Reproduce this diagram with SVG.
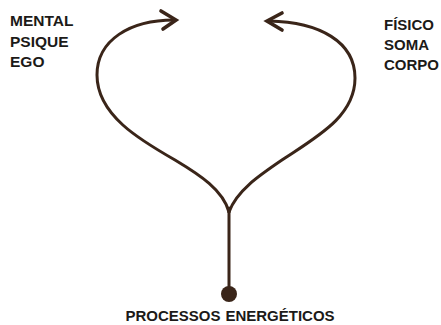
<svg xmlns="http://www.w3.org/2000/svg" width="441" height="325" viewBox="0 0 441 325">
<style>
.lbl{font-family:"Liberation Sans",Arial,sans-serif;font-size:15.5px;font-weight:bold;fill:#1c1a18}
.rl{font-size:15px}
.ln{fill:none;stroke:#3a2519;stroke-width:3;stroke-linecap:round;stroke-linejoin:round}
.hd{fill:none;stroke:#3a2519;stroke-width:3.6;stroke-linecap:round;stroke-linejoin:miter}
</style>
<rect width="441" height="325" fill="#ffffff"/>
<g id="connectors">
<path class="ln" d="M229,212 C223,190 200,175 175,160 C140,140 97,115 97,75 C97,40 130,20 174,20"/>
<polyline class="hd" points="161,11 176,20 163,29"/>
<path class="ln" d="M229,212 C237,190 260,175 285,158 C320,135 355,115 355,78 C355,42 320,22 269,21"/>
<polyline class="hd" points="282,13 267,21 282,30"/>
<line class="ln" x1="229" y1="208" x2="229" y2="290"/>
</g>
<g id="mental">
<text class="lbl" x="10" y="26">MENTAL</text>
<text class="lbl" x="10" y="47">PSIQUE</text>
<text class="lbl" x="10" y="67">EGO</text>
</g>
<g id="fisico">
<text class="lbl rl" x="384" y="30">FÍSICO</text>
<text class="lbl rl" x="384" y="50">SOMA</text>
<text class="lbl rl" x="384" y="70">CORPO</text>
</g>
<g id="processos">
<circle cx="229" cy="294" r="8" fill="#3a2519"/>
<text class="lbl" x="230" y="321" text-anchor="middle" style="font-size:15px">PROCESSOS<tspan dx="5">ENERGÉTICOS</tspan></text>
</g>
</svg>
